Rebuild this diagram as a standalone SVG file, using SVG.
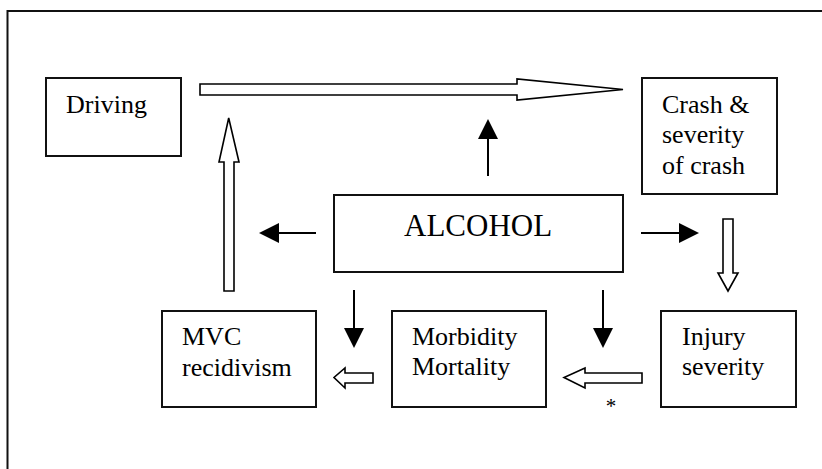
<svg xmlns="http://www.w3.org/2000/svg" width="822" height="469" viewBox="0 0 822 469">
<style>
.box{fill:#fff;stroke:#111;stroke-width:2}
text{font-family:'Liberation Serif','Times New Roman',serif;font-size:26px;fill:#000}
.big{font-size:31px}
.ast{font-size:21px}
.ln{stroke:#000;stroke-width:2;fill:none}
.hol{fill:#fff;stroke:#000;stroke-width:1.6;stroke-linejoin:miter}
</style>
<defs>
<marker id="ah" viewBox="0 0 20 20" refX="0" refY="10" markerWidth="20" markerHeight="20" markerUnits="userSpaceOnUse" orient="auto">
<path d="M0,0 L20,10 L0,20 Z" fill="#000"/>
</marker>
</defs>
<rect width="822" height="469" fill="#fff"/>
<path d="M7.5,469 V11 H822" fill="none" stroke="#111" stroke-width="2"/>
<g id="driving"><rect class="box" x="46" y="78" width="135" height="78"/><text x="66" y="113">Driving</text></g>
<g id="crash"><rect class="box" x="642" y="78" width="135" height="116"/><text x="662" y="113">Crash &amp;</text><text x="662" y="143">severity</text><text x="662" y="174">of crash</text></g>
<g id="alcohol"><rect class="box" x="334" y="195" width="289" height="77"/><text class="big" x="404" y="236">ALCOHOL</text></g>
<g id="mvc"><rect class="box" x="162" y="311" width="154" height="96"/><text x="182" y="345">MVC</text><text x="182" y="376">recidivism</text></g>
<g id="morbidity"><rect class="box" x="392" y="311" width="154" height="96"/><text x="412" y="345">Morbidity</text><text x="412" y="375">Mortality</text></g>
<g id="injury"><rect class="box" x="661" y="311" width="135" height="96"/><text x="682" y="345">Injury</text><text x="682" y="375">severity</text></g>
<g id="connectors">
<line class="ln" x1="316" y1="233" x2="279" y2="233" marker-end="url(#ah)"/>
<line class="ln" x1="641" y1="233" x2="679" y2="233" marker-end="url(#ah)"/>
<line class="ln" x1="488" y1="176" x2="488" y2="139" marker-end="url(#ah)"/>
<line class="ln" x1="354" y1="290" x2="354" y2="328" marker-end="url(#ah)"/>
<line class="ln" x1="603" y1="290" x2="603" y2="328" marker-end="url(#ah)"/>
<polygon class="hol" points="200,84 517,84 517,79 623,89.5 517,100 517,95 200,95"/>
<polygon class="hol" points="224,291 224,162 219,162 228.7,118 239,162 234,162 234,291"/>
<polygon class="hol" points="723,219 733,219 733,273 738,273 728,291 718,273 723,273"/>
<polygon class="hol" points="642,373 585,373 585,368 564,377.5 585,388 585,383 642,383"/>
<polygon class="hol" points="373,373 345,373 345,368 334,377.5 345,388 345,383 373,383"/>
<text class="ast" x="611" y="413" text-anchor="middle">*</text>
</g>
</svg>
